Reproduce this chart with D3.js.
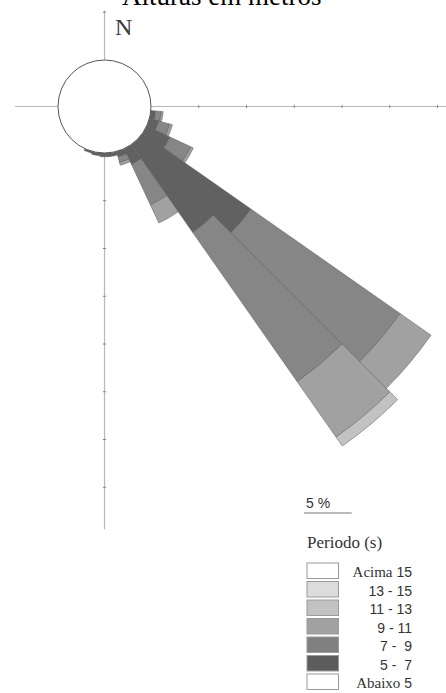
<!DOCTYPE html>
<html>
<head>
<meta charset="utf-8">
<script src="https://cdn.jsdelivr.net/npm/d3@7/dist/d3.min.js"></script>
<style>
  html, body { margin: 0; padding: 0; background: #fff; }
  svg { display: block; }
</style>
</head>
<body>
<svg id="rose" width="446" height="693"></svg>
<script>
// Wave rose: occurrence (%) by direction sector (10°) and peak period class
const directions = [100, 110, 120, 130, 140, 150, 160, 170, 180, 190, 200];
const periodClasses = ["5 - 7", "7 - 9", "9 - 11", "11 - 13"];
const p5to7   = [0.5, 1.0, 2.7, 13.85, 11.25, 1.8, 0.6, 0.4, 0.4, 0.3, 0.2];
const p7to9   = [0.6, 1.2, 2.4, 19.06, 19.06, 4.7, 0.6, 0, 0, 0, 0];
const p9to11  = [0.2, 0.3, 0.3, 3.96, 7.08, 2.1, 0.3, 0, 0, 0, 0];
const p11to13 = [0, 0, 0, 0, 1.15, 0, 0, 0, 0, 0, 0];
const classColors = ["#616161", "#868686", "#a1a1a1", "#c2c2c2"];

const legendLabels = [["Acima", " 15"], ["", "13 - 15"], ["", "11 - 13"], ["", "9 - 11"], ["", "7 -  9"], ["", "5 -  7"], ["Abaixo", " 5"]];
const legendColors = ["#ffffff", "#dcdcdc", "#c2c2c2", "#a1a1a1", "#808080", "#5c5c5c", "#ffffff"];
const axisTicks = [5, 10, 15, 20, 25, 30, 35, 40];

const svg = d3.select("#rose");
const cx = 104.5, cy = 106.5, hole = 46.5, pxPerPct = 9.55;
const r = d3.scaleLinear().domain([0, 40]).range([hole, hole + 40 * pxPerPct]);
const g = svg.append("g").attr("transform", `translate(${cx},${cy})`);

// Title and north mark
svg.append("text").attr("x", 122).attr("y", 4.5)
  .attr("font-family", "'Liberation Serif', 'DejaVu Serif', serif").attr("font-size", 27)
  .attr("fill", "#000").text("Alturas em metros");
svg.append("text").attr("x", 115).attr("y", 35)
  .attr("font-family", "'Liberation Serif', serif").attr("font-size", 24)
  .attr("fill", "#3a3a3a").text("N");

// Cross axes (extent in % per direction)
const axisColor = "#b8b8b8";
const axes = [
  { dx: 0, dy: -1, ext: 5.2 },
  { dx: -1, dy: 0, ext: 4.5 },
  { dx: 1, dy: 0, ext: 40 },
  { dx: 0, dy: 1, ext: 39.4 }
];
axes.forEach(a => {
  g.append("line")
    .attr("x1", a.dx * r(0)).attr("y1", a.dy * r(0))
    .attr("x2", a.dx * r(a.ext)).attr("y2", a.dy * r(a.ext))
    .attr("stroke", axisColor).attr("stroke-width", 1.2);
  axisTicks.filter(t => t < a.ext).forEach(t => {
    const px = a.dx * r(t), py = a.dy * r(t);
    g.append("line")
      .attr("x1", px - a.dy * 1.6).attr("y1", py - a.dx * 1.6)
      .attr("x2", px + a.dy * 1.6).attr("y2", py + a.dx * 1.6)
      .attr("stroke", "#888").attr("stroke-width", 1);
  });
});

// Stacked sectors
const series = [p5to7, p7to9, p9to11, p11to13];
const arc = d3.arc();
const half = 5 * Math.PI / 180;
directions.forEach((dir, i) => {
  let acc = 0;
  series.forEach((s, k) => {
    const v = s[i];
    if (v <= 0) return;
    const a = dir * Math.PI / 180;
    g.append("path")
      .attr("d", arc({ innerRadius: r(acc), outerRadius: r(acc + v), startAngle: a - half, endAngle: a + half }))
      .attr("fill", classColors[k])
      .attr("stroke", "#5a5a5a").attr("stroke-width", 0.5);
    acc += v;
  });
});

// Centre circle
g.append("circle").attr("r", hole).attr("fill", "#fff")
  .attr("stroke", "#555").attr("stroke-width", 1);

// Scale bar
const sx = 304;
svg.append("text").attr("x", 306).attr("y", 508)
  .attr("font-family", "'Liberation Sans', Arial, sans-serif").attr("font-size", 14)
  .attr("fill", "#333").text("5 %");
svg.append("line").attr("x1", sx).attr("x2", sx + (r(5) - r(0))).attr("y1", 513).attr("y2", 513)
  .attr("stroke", "#777").attr("stroke-width", 1);

// Legend
svg.append("text").attr("x", 307).attr("y", 548)
  .attr("font-family", "'Liberation Serif', serif").attr("font-size", 17)
  .attr("fill", "#333").text("Periodo (s)");
const lg = svg.append("g");
legendLabels.forEach((lab, i) => {
  const y = 563 + i * 18.5;
  lg.append("rect").attr("x", 307).attr("y", y).attr("width", 31.5).attr("height", 15.5)
    .attr("fill", legendColors[i]).attr("stroke", "#9a9a9a").attr("stroke-width", 1);
  const t = lg.append("text").attr("x", 412).attr("y", y + 14).attr("text-anchor", "end")
    .attr("fill", "#333").attr("xml:space", "preserve").style("white-space", "pre");
  if (lab[0]) {
    t.append("tspan").attr("font-family", "'Liberation Serif', serif").attr("font-size", 15).text(lab[0]);
  }
  t.append("tspan").attr("font-family", "'Liberation Sans', Arial, sans-serif").attr("font-size", 14).text(lab[1]);
});
</script>
</body>
</html>
